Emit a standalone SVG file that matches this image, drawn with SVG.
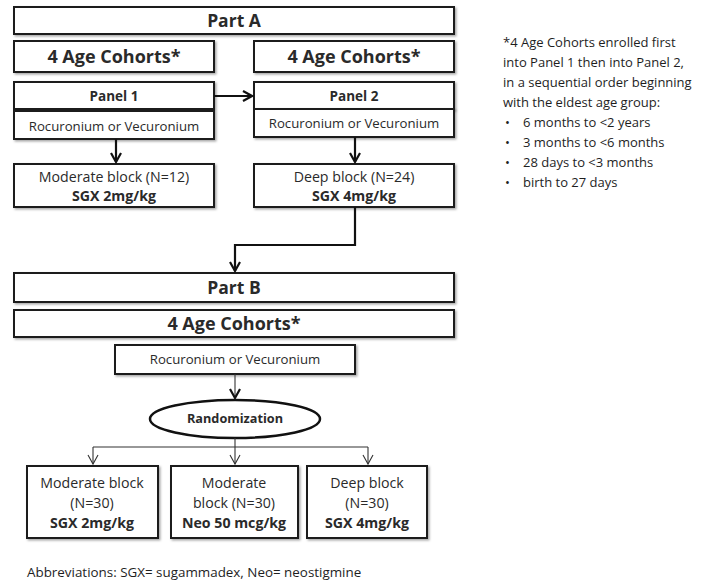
<svg xmlns="http://www.w3.org/2000/svg" width="715" height="585" viewBox="0 0 715 585">
<defs>
<filter id="sh" x="-5%" y="-10%" width="115%" height="130%"><feDropShadow dx="1.5" dy="1.5" stdDeviation="1" flood-color="#000" flood-opacity="0.35"/></filter>
<marker id="ah" markerWidth="12" markerHeight="12" refX="10" refY="6" orient="auto" markerUnits="userSpaceOnUse"><path d="M1,1 L10,6 L1,11" fill="none" stroke="#111" stroke-width="2.2"/></marker>
<marker id="at" markerWidth="12" markerHeight="12" refX="10" refY="6" orient="auto" markerUnits="userSpaceOnUse"><path d="M1,1 L10,6 L1,11" fill="none" stroke="#333" stroke-width="1.1"/></marker>
</defs>
<style>
rect{fill:#fff;stroke:#1a1a1a;stroke-width:2}
text{font-family:"Open Sans","Liberation Sans",sans-serif;fill:#2a2a2a;text-anchor:middle}
.b{font-weight:bold}
.h1{font-size:17.5px;font-weight:bold}
.h2{font-size:18px;font-weight:bold}
.p{font-size:13.5px;font-weight:bold}
.r{font-size:13.2px}
.m{font-size:14.2px}
.rd{font-size:12.7px;font-weight:bold}
.note{font-size:13px;text-anchor:start;fill:#1e1e1e}
.ab{font-size:13.4px;text-anchor:start;fill:#1e1e1e}
.conn{fill:none;stroke:#111;stroke-width:2.2}
.thin{fill:none;stroke:#333;stroke-width:1.1}
</style>
<g id="partA"><rect x="14" y="7" width="440" height="27" filter="url(#sh)"/><text class="h1" x="234" y="27">Part A</text></g>
<g id="cohortsA1"><rect x="14" y="41" width="200" height="31" filter="url(#sh)"/><text class="h2" x="114" y="63">4 Age Cohorts*</text></g>
<g id="cohortsA2"><rect x="254" y="41" width="200" height="31" filter="url(#sh)"/><text class="h2" x="354" y="63">4 Age Cohorts*</text></g>
<g id="panel1"><rect x="14" y="82" width="200" height="27" filter="url(#sh)"/><text class="p" x="114" y="101">Panel 1</text></g>
<g id="roc1"><rect x="14" y="111" width="200" height="28" filter="url(#sh)"/><text class="r" x="114" y="131">Rocuronium or Vecuronium</text></g>
<g id="panel2"><rect x="254" y="82" width="200" height="27" filter="url(#sh)"/><text class="p" x="354" y="101">Panel 2</text></g>
<g id="roc2"><rect x="254" y="109" width="200" height="28" filter="url(#sh)"/><text class="r" x="354" y="128">Rocuronium or Vecuronium</text></g>
<g id="mod12"><rect x="14" y="164" width="200" height="43" filter="url(#sh)"/><text class="m" x="114" y="182">Moderate block (N=12)</text><text class="m b" x="114" y="201">SGX 2mg/kg</text></g>
<g id="deep24"><rect x="254" y="164" width="200" height="43" filter="url(#sh)"/><text class="m" x="354" y="182">Deep block (N=24)</text><text class="m b" x="354" y="201">SGX 4mg/kg</text></g>
<g id="partB"><rect x="14" y="273" width="440" height="29" filter="url(#sh)"/><text class="h1" x="234" y="294">Part B</text></g>
<g id="cohortsB"><rect x="14" y="310" width="440" height="27" filter="url(#sh)"/><text class="h2" x="234" y="330">4 Age Cohorts*</text></g>
<g id="rocB"><rect x="115" y="345" width="240" height="29" filter="url(#sh)"/><text class="r" x="235" y="364">Rocuronium or Vecuronium</text></g>
<g id="rand"><ellipse cx="235" cy="419" rx="85" ry="19" fill="#fff" stroke="#111" stroke-width="2.5"/><text class="rd" x="235" y="423">Randomization</text></g>
<g id="b1"><rect x="27" y="466" width="131" height="72" filter="url(#sh)"/><text class="m" x="92" y="488">Moderate block</text><text class="m" x="92" y="508">(N=30)</text><text class="m b" x="92" y="528">SGX 2mg/kg</text></g>
<g id="b2"><rect x="171" y="466" width="127" height="72" filter="url(#sh)"/><text class="m" x="234" y="488">Moderate</text><text class="m" x="234" y="508">block (N=30)</text><text class="m b" x="234" y="528">Neo 50 mcg/kg</text></g>
<g id="b3"><rect x="307" y="466" width="120" height="72" filter="url(#sh)"/><text class="m" x="367" y="488">Deep block</text><text class="m" x="367" y="508">(N=30)</text><text class="m b" x="367" y="528">SGX 4mg/kg</text></g>
<g id="connectors">
<path class="conn" d="M214,96 H252" marker-end="url(#ah)"/>
<path class="conn" d="M116,139 V162" marker-end="url(#ah)"/>
<path class="conn" d="M355,137 V162" marker-end="url(#ah)"/>
<path class="conn" d="M355,207 V245 H235 V271" marker-end="url(#ah)"/>
<path class="thin" d="M235,374 V398" marker-end="url(#ah)" stroke-width="1.6"/>
<path class="thin" d="M235,438 V447 M93,447 H368"/>
<path class="thin" d="M93,447 V464" marker-end="url(#at)"/>
<path class="thin" d="M235,447 V464" marker-end="url(#at)"/>
<path class="thin" d="M368,447 V464" marker-end="url(#at)"/>
</g>
<g id="notes">
<text class="note" x="503" y="47">*4 Age Cohorts enrolled first</text>
<text class="note" x="503" y="67">into Panel 1 then into Panel 2,</text>
<text class="note" x="503" y="87">in a sequential order beginning</text>
<text class="note" x="503" y="107">with the eldest age group:</text>
<text class="note" x="505" y="127">•</text><text class="note" x="523" y="127">6 months to &lt;2 years</text>
<text class="note" x="505" y="147">•</text><text class="note" x="523" y="147">3 months to &lt;6 months</text>
<text class="note" x="505" y="167">•</text><text class="note" x="523" y="167">28 days to &lt;3 months</text>
<text class="note" x="505" y="187">•</text><text class="note" x="523" y="187">birth to 27 days</text>
<text class="ab" x="27" y="577">Abbreviations:  SGX= sugammadex, Neo= neostigmine</text>
</g>
</svg>
